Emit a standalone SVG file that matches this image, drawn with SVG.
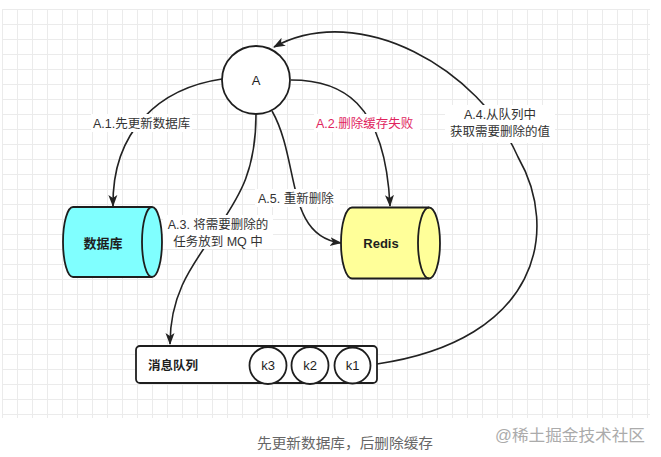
<svg xmlns="http://www.w3.org/2000/svg" width="661" height="457" viewBox="0 0 661 457">
<style>
text{font-family:"Liberation Sans","Noto Sans CJK SC",sans-serif;}
.shape{stroke:#1e1e1e;stroke-width:1.8;}
.lbl{font-size:12.5px;fill:#333;}
.bg{fill:#fff;}
.conn path{fill:none;stroke:#222;stroke-width:1.6;}
.node{font-size:13px;fill:#1e1e1e;text-anchor:middle;}
</style>
<defs>
<pattern id="grid" x="2" y="9" width="15" height="15" patternUnits="userSpaceOnUse">
<path d="M0.5 0V15M0 0.5H15" stroke="#ebebeb" stroke-width="1" fill="none"/>
</pattern>
<marker id="arr" viewBox="0 0 12 10" refX="11" refY="5" markerWidth="12" markerHeight="10" markerUnits="userSpaceOnUse" orient="auto">
<path d="M0,0.5 L12,5 L0,9.5 L3,5 Z" fill="#222"/>
</marker>
</defs>
<rect x="0" y="0" width="661" height="457" fill="#fff"/>
<rect x="2" y="9" width="648" height="409" fill="url(#grid)"/>

<g id="connectors" class="conn">
<path d="M222 79 C160 88 112 130 113 206" marker-end="url(#arr)"/>
<path d="M291 80 C340 80 385 100 390 206" marker-end="url(#arr)"/>
<path d="M256 114 C256 170 240 195 220 225 C195 262 170 290 170 344" marker-end="url(#arr)"/>
<path d="M272 111 C300 160 285 236 341 243" marker-end="url(#arr)"/>
<path d="M377 364 C540 340 560 230 518 157 C480 70 360 0 274 47" marker-end="url(#arr)"/>
</g>

<g id="labels">
<rect class="bg" x="91" y="114" width="101" height="18"/>
<text class="lbl" x="93" y="127.5">A.1.先更新数据库</text>
<rect class="bg" x="314" y="114" width="106" height="18"/>
<text class="lbl" x="316" y="127.5" style="fill:#e0245e">A.2.删除缓存失败</text>
<rect class="bg" x="163" y="215" width="110" height="34"/>
<text class="lbl" x="218" y="228.5" text-anchor="middle">A.3. 将需要删除的</text>
<text class="lbl" x="218" y="245.5" text-anchor="middle">任务放到 MQ 中</text>
<rect class="bg" x="255" y="189" width="85" height="18"/>
<text class="lbl" x="258" y="202.5">A.5. 重新删除</text>
<rect class="bg" x="445" y="105" width="110" height="38"/>
<text class="lbl" x="500" y="118.5" text-anchor="middle">A.4.从队列中</text>
<text class="lbl" x="500" y="136" text-anchor="middle">获取需要删除的值</text>
</g>

<g id="node-A">
<circle class="shape" cx="256" cy="80" r="34" fill="#fff"/>
<text class="node" x="256" y="85">A</text>
</g>

<g id="node-db">
<path class="shape" fill="#80ffff" d="M73 207 H152 A10 35 0 0 1 152 277 H73 A10 35 0 0 1 73 207 Z"/>
<path class="shape" fill="none" d="M152 207 A10 35 0 0 0 152 277"/>
<text class="node" x="103" y="247.5" font-weight="bold">数据库</text>
</g>

<g id="node-redis">
<path class="shape" fill="#ffff99" d="M352 207.5 H429 A11 35.5 0 0 1 429 278.5 H352 A11 35.5 0 0 1 352 207.5 Z"/>
<path class="shape" fill="none" d="M429 207.5 A11 35.5 0 0 0 429 278.5"/>
<text class="node" x="381" y="247.5" font-weight="bold">Redis</text>
</g>

<g id="node-mq">
<rect class="shape" x="136" y="346" width="241" height="37" rx="4" fill="#fff"/>
<text x="148" y="369.5" font-size="12.5" font-weight="bold" fill="#1e1e1e">消息队列</text>
<circle class="shape" cx="268" cy="365.5" r="18.5" fill="#fff"/>
<text class="node" x="268" y="370">k3</text>
<circle class="shape" cx="310" cy="365.5" r="18.5" fill="#fff"/>
<text class="node" x="310" y="370">k2</text>
<circle class="shape" cx="352.5" cy="365.5" r="18" fill="#fff"/>
<text class="node" x="352.5" y="370">k1</text>
</g>

<text x="257" y="448" font-size="14" fill="#666" textLength="176" lengthAdjust="spacingAndGlyphs">先更新数据库，后删除缓存</text>
<text x="495" y="441" font-size="16" fill="#ababab" textLength="150" lengthAdjust="spacingAndGlyphs">@稀土掘金技术社区</text>
</svg>
